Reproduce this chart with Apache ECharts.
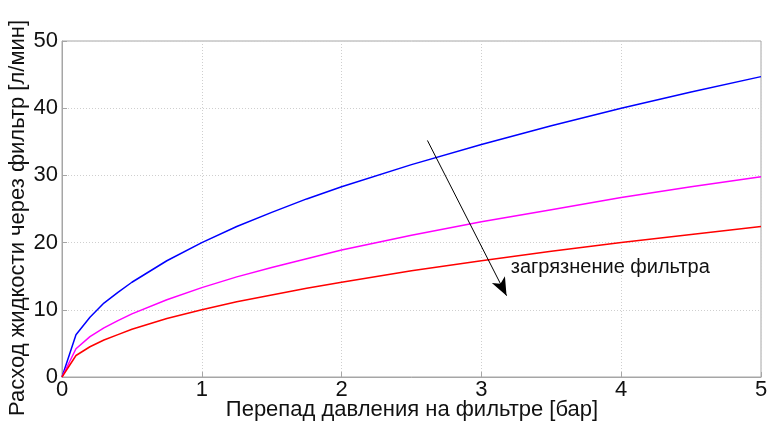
<!DOCTYPE html>
<html>
<head>
<meta charset="utf-8">
<script src="https://cdn.jsdelivr.net/npm/echarts@6/dist/echarts.min.js"></script>
<style>html,body{margin:0;padding:0;background:#fff}#c{width:768px;height:425px}</style>
</head>
<body>
<div id="c"></div>
<script>
// pressure drop [bar]
const pressure = [0, 0.1, 0.2, 0.3, 0.4, 0.5, 0.75, 1, 1.25, 1.5, 1.75, 2, 2.5, 3, 3.5, 4, 4.5, 5];
// flow, clean filter (blue)
const flowClean = [0, 6.3, 8.9, 11.0, 12.6, 14.1, 17.3, 20.0, 22.4, 24.5, 26.5, 28.3, 31.6, 34.6, 37.4, 40.0, 42.4, 44.7];
// flow, partly clogged (magenta)
const flowMid = [0, 4.2, 6.0, 7.3, 8.4, 9.4, 11.5, 13.3, 14.9, 16.3, 17.6, 18.9, 21.1, 23.1, 24.9, 26.7, 28.3, 29.8];
// flow, clogged (red)
const flowDirty = [0, 3.2, 4.5, 5.5, 6.3, 7.1, 8.7, 10.0, 11.2, 12.2, 13.2, 14.1, 15.8, 17.3, 18.7, 20.0, 21.2, 22.4];
const xTicks = [0, 1, 2, 3, 4, 5];
const yTicks = [0, 10, 20, 30, 40, 50];
const xLabel = 'Перепад давления на фильтре [бар]';
const yLabel = 'Расход жидкости через фильтр [л/мин]';
const annotation = 'загрязнение фильтра';

const pairs = (ys) => pressure.map((x, i) => [x, ys[i]]);
const FONT = '"Liberation Sans", Arial, sans-serif';
const chart = echarts.init(document.getElementById('c'), null, {renderer: 'canvas'});
const gray = '#a6a6a6';
const txt = '#111';
const axisCommon = {
  axisLine: {show: true, lineStyle: {color: gray, width: 1}},
  axisTick: {show: true, inside: true, length: 5, lineStyle: {color: gray}},
  splitLine: {show: true, lineStyle: {color: '#cfcfcf', type: [1, 2], width: 1}},
  axisLabel: {color: txt, fontSize: 22, fontFamily: FONT}
};
const lineSeries = (data, color) => ({
  type: 'line', data: pairs(data), showSymbol: false, symbol: 'none',
  lineStyle: {color: color, width: 1.5}, itemStyle: {color: color}, animation: false
});
chart.setOption({
  animation: false,
  grid: {left: 62, right: 7, top: 41, bottom: 48, show: true, borderColor: gray, borderWidth: 1,
    containLabel: false, outerBoundsMode: 'none'},
  xAxis: Object.assign({}, axisCommon, {
    type: 'value', min: xTicks[0], max: xTicks[xTicks.length - 1], interval: 1,
    axisLabel: Object.assign({}, axisCommon.axisLabel, {margin: 2})
  }),
  yAxis: Object.assign({}, axisCommon, {
    type: 'value', min: yTicks[0], max: yTicks[yTicks.length - 1], interval: 10,
    axisLabel: Object.assign({}, axisCommon.axisLabel, {margin: 4})
  }),
  graphic: [{
    type: 'text', x: 18, y: 416, rotation: Math.PI / 2,
    style: {text: yLabel, fill: txt, font: '22px ' + FONT, textAlign: 'left', textVerticalAlign: 'middle'}
  }, {
    type: 'text', x: 412, y: 410,
    style: {text: xLabel, fill: txt, font: '22px ' + FONT, textAlign: 'center', textVerticalAlign: 'middle'}
  }],
  series: [
    lineSeries(flowClean, '#0000ff'),
    lineSeries(flowMid, '#ff00ff'),
    lineSeries(flowDirty, '#ff0000'),
    {
      type: 'scatter', data: [[3.21, 16.3]], symbolSize: 0, silent: true,
      itemStyle: {opacity: 1, color: 'transparent'},
      label: {show: true, position: 'right', distance: 0, formatter: annotation,
        color: txt, fontSize: 20, fontFamily: FONT},
      markLine: {
        silent: true, symbol: ['none', 'arrow'], symbolSize: [11, 18],
        label: {show: false},
        lineStyle: {color: '#000', width: 1, type: 'solid', opacity: 1},
        data: [[{coord: [2.614, 35.2]}, {coord: [3.18, 12.1]}]]
      }
    }
  ]
});
</script>
</body>
</html>
